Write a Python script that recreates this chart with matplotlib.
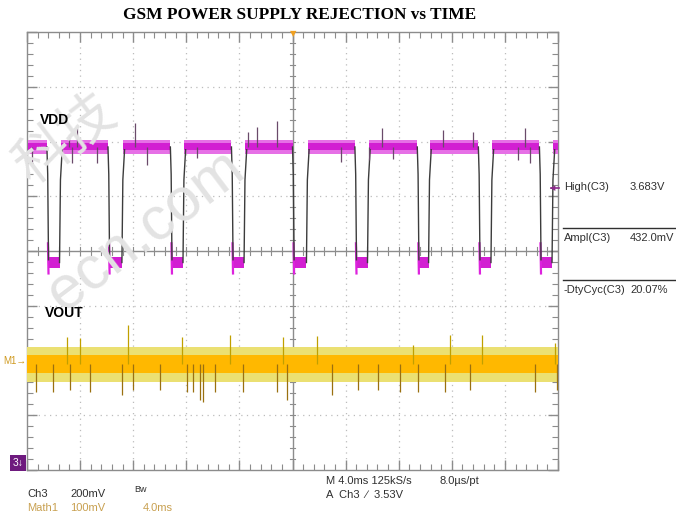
import matplotlib
matplotlib.use("Agg")
import matplotlib.pyplot as plt
from matplotlib.ticker import MultipleLocator

# screen: 10 divisions x 4.0 ms, 8 divisions vertically (values in divisions)
t_span = 40.0
v_half = 4.0

# VDD (Ch3) pulse train, edge times in ms
vdd_falls = [1.5, 6.1, 10.8, 15.4, 20.0, 24.7, 29.4, 34.0, 38.6]
vdd_rises = [2.5, 7.2, 11.8, 16.4, 21.1, 25.7, 30.3, 35.0, 39.6]
vdd_high = 1.90
vdd_low = -0.21

# noise spikes on the high level (time ms, level div)
vdd_up_t = [3.16, 3.77, 8.14, 16.65, 17.33, 18.83, 26.74, 31.34, 33.60, 37.51]
vdd_up_v = [2.12, 2.25, 2.34, 2.17, 2.26, 2.37, 2.25, 2.21, 2.17, 2.25]
vdd_dn_t = [0.38, 3.39, 5.27, 9.04, 12.81, 23.65, 25.76, 27.57, 36.99, 37.89]
vdd_dn_v = [1.63, 1.61, 1.61, 1.57, 1.70, 1.63, 1.66, 1.68, 1.66, 1.61]

# VOUT (Math1) noise band
vout_mid = -2.06
vout_core = (-1.90, -2.23)
vout_outer = (-1.75, -2.39)
vout_up_t = [3.01, 3.99, 7.61, 11.68, 15.29, 19.28, 21.85, 29.08, 31.87, 34.28, 39.78]
vout_up_v = [-1.57, -1.59, -1.35, -1.57, -1.53, -1.57, -1.55, -1.72, -1.53, -1.53, -1.68]
vout_dn_t = [0.68, 1.96, 3.24, 4.75, 7.16, 7.99, 10.02, 12.05, 12.51, 13.03, 13.26, 14.16,
             16.27, 18.83, 19.59, 22.98, 24.93, 26.44, 28.10, 29.46, 31.49, 33.37, 38.27, 39.93]
vout_dn_v = [-2.58, -2.58, -2.54, -2.58, -2.63, -2.54, -2.54, -2.58, -2.58, -2.72, -2.76, -2.58,
             -2.58, -2.58, -2.72, -2.63, -2.54, -2.54, -2.58, -2.58, -2.58, -2.54, -2.58, -2.54]

meas_names = ["High(C3)", "Ampl(C3)", "-DtyCyc(C3)"]
meas_values = ["3.683V", "432.0mV", "20.07%"]

W, H = 676, 520
fig = plt.figure(figsize=(W / 100, H / 100), dpi=100)
fig.patch.set_facecolor("white")


def px(x, y):
    return x / W, 1 - y / H


left, right, top, bottom = 27, 558, 32, 470
ax = fig.add_axes([left / W, 1 - bottom / H, (right - left) / W, (bottom - top) / H])
ax.set_xlim(0, t_span)
ax.set_ylim(-v_half, v_half)
ax.patch.set_alpha(0)

grid_c = "#8c8c8c"
for s in ax.spines.values():
    s.set_color(grid_c)
    s.set_linewidth(1.0)
ax.xaxis.set_major_locator(MultipleLocator(4))
ax.xaxis.set_minor_locator(MultipleLocator(0.8))
ax.yaxis.set_major_locator(MultipleLocator(1))
ax.yaxis.set_minor_locator(MultipleLocator(0.2))
ax.tick_params(which="both", direction="in", top=True, right=True, colors=grid_c,
               labelbottom=False, labelleft=False)
ax.tick_params(which="major", length=7, width=1)
ax.tick_params(which="minor", length=4, width=0.8)

# dotted graticule
for gx in range(4, 40, 4):
    if gx != 20:
        ax.axvline(gx, color="#bcbcbc", lw=0.9, ls=(0, (1, 3.5)), zorder=1)
for gy in range(-3, 4):
    if gy != 0:
        ax.axhline(gy, color="#bcbcbc", lw=0.9, ls=(0, (1, 3.5)), zorder=1)

# centre axes with small ticks
ax.axvline(20, color=grid_c, lw=1.0, zorder=1)
ax.axhline(0, color=grid_c, lw=1.0, zorder=1)
for k in range(1, 50):
    ax.plot([k * 0.8, k * 0.8], [-0.07, 0.07], color=grid_c, lw=0.8, zorder=1)
for k in range(-19, 20):
    ax.plot([19.82, 20.18], [k * 0.2, k * 0.2], color=grid_c, lw=0.8, zorder=1)

# watermark
wm = "#e3e3e3"
fig.text(*px(66, 140), "科技", fontsize=40, color=wm, rotation=37,
         ha="center", va="center", family=["Noto Sans CJK SC", "DejaVu Sans"], zorder=0)
fig.text(*px(146, 232), "ecn.com", fontsize=44, color=wm, rotation=37,
         ha="center", va="center", family="Liberation Sans", zorder=0)

# VDD trace
mag = "#dd22dd"
edge_c = "#3c3c3c"
starts = [0.0] + vdd_rises
ends = vdd_falls + [t_span]
for a, b in zip(starts, ends):
    ax.fill_between([a + 0.05, b], vdd_high - 0.12, vdd_high + 0.12, color="#e670e6", lw=0, zorder=3)
    ax.fill_between([a + 0.05, b], vdd_high - 0.06, vdd_high + 0.07, color="#d21fd2", lw=0, zorder=3)
for f, r in zip(vdd_falls, vdd_rises):
    ax.plot([f, f + 0.06, f + 0.12], [vdd_high, vdd_high - 0.5, vdd_low + 0.05], color=edge_c, lw=1.0, zorder=4)
    ax.plot([r - 0.05, r + 0.02, r + 0.15], [vdd_low, vdd_high - 0.6, vdd_high - 0.05], color=edge_c, lw=1.0, zorder=4)
    ax.fill_between([f + 0.12, r - 0.05], vdd_low - 0.1, vdd_low + 0.1, color="#d21fd2", lw=0, zorder=3)
    ax.plot([f + 0.08, f + 0.12], [vdd_low + 0.35, vdd_low - 0.2], color=mag, lw=1.6, zorder=3)
ax.vlines(vdd_up_t, vdd_high, vdd_up_v, color="#6a4a6a", lw=0.9, zorder=4)
ax.vlines(vdd_dn_t, vdd_high, vdd_dn_v, color="#6a4a6a", lw=0.9, zorder=4)

# VOUT trace
ax.fill_between([0, t_span], vout_outer[1], vout_outer[0], color="#ebe072", lw=0, zorder=3)
ax.fill_between([0, t_span], vout_core[1], vout_core[0], color="#ffb800", lw=0, zorder=3)
ax.vlines(vout_up_t, vout_mid, vout_up_v, color="#c0a000", lw=0.9, zorder=4)
ax.vlines(vout_dn_t, vout_mid, vout_dn_v, color="#9a7010", lw=0.9, zorder=4)

# trace labels
fig.text(*px(40, 120), "VDD", fontsize=10, fontweight="bold", family="Liberation Sans", va="center")
fig.text(*px(45, 313), "VOUT", fontsize=10, fontweight="bold", family="Liberation Sans", va="center")

# title
fig.text(*px(300, 15), "GSM POWER SUPPLY REJECTION vs TIME", fontsize=12.4, fontweight="bold",
         family="Liberation Serif", ha="center", va="center")

# markers on the screen
fig.text(*px(293, 34), "\u25BC", fontsize=6, color="#f0a020", ha="center", va="center")
fig.text(*px(553, 188), "\u25C0", fontsize=5, color="#8a2a8a", ha="center", va="center")
fig.add_artist(plt.Line2D([551 / W, 559 / W], [1 - 188 / H] * 2, color="#8a2a8a", lw=1.2))
fig.text(*px(3, 361), "M1\u2192", fontsize=7, color="#d09a20", va="center", family="Liberation Sans")
fig.text(*px(18, 463), "3\u2193", fontsize=7.5, color="white", ha="center", va="center",
         family="Liberation Sans",
         bbox=dict(boxstyle="square,pad=0.25", fc="#6e1a7e", ec="none"))

# measurement panel
tc = "#303030"
rows_y = [187, 238, 290]
for name, val, yy in zip(meas_names, meas_values, rows_y):
    fig.text(*px(564, yy), name, fontsize=8, color=tc, va="center", family="Liberation Sans")
    fig.text(*px(630, yy), val, fontsize=8, color=tc, va="center", family="Liberation Sans")
for yy in [228, 280]:
    fig.add_artist(plt.Line2D([563 / W, 1.0], [1 - yy / H] * 2, color="#303030", lw=1.0))

# readouts under the screen
tan = "#c8a050"
fig.text(*px(27, 494), "Ch3", fontsize=8, color=tc, va="center", family="Liberation Sans")
fig.text(*px(70, 494), "200mV", fontsize=8, color=tc, va="center", family="Liberation Sans")
fig.text(*px(134, 490), "Bw", fontsize=6.5, color=tc, va="center", family="Liberation Sans")
fig.text(*px(27, 508), "Math1", fontsize=8, color=tan, va="center", family="Liberation Sans")
fig.text(*px(70, 508), "100mV", fontsize=8, color=tan, va="center", family="Liberation Sans")
fig.text(*px(143, 508), "4.0ms", fontsize=8, color=tan, va="center", family="Liberation Sans")
fig.text(*px(326, 481), "M 4.0ms 125kS/s", fontsize=8, color=tc, va="center", family="Liberation Sans")
fig.text(*px(440, 481), "8.0\u00b5s/pt", fontsize=8, color=tc, va="center", family="Liberation Sans")
fig.text(*px(326, 495), "A  Ch3  \u2215  3.53V", fontsize=8, color=tc, va="center", family="Liberation Sans")

fig.savefig("out.png", dpi=100, facecolor="white")
